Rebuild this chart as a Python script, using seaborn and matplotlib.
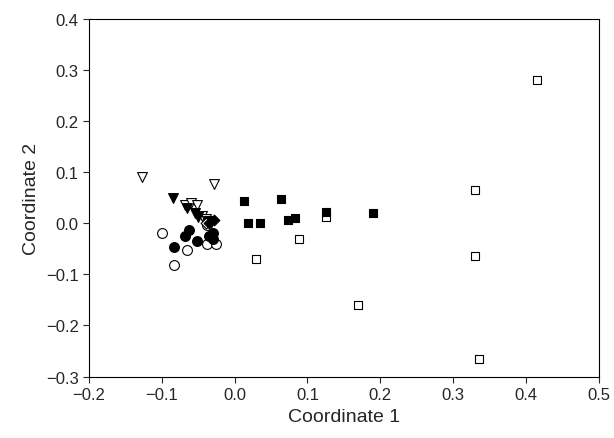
import matplotlib
matplotlib.use("Agg")
import matplotlib.pyplot as plt
import seaborn as sns
import pandas as pd

open_sq_x = [0.415, 0.33, 0.33, 0.335, 0.17, 0.125, 0.088, 0.03]
open_sq_y = [0.28, 0.065, -0.065, -0.265, -0.16, 0.012, -0.03, -0.07]
fill_sq_x = [0.013, 0.018, 0.035, 0.063, 0.073, 0.083, 0.125, 0.19]
fill_sq_y = [0.043, 0.0, 0.0, 0.048, 0.007, 0.01, 0.022, 0.02]
open_tri_x = [-0.127, -0.028, -0.068, -0.06, -0.052, -0.045, -0.04]
open_tri_y = [0.09, 0.077, 0.035, 0.04, 0.035, 0.015, 0.008]
fill_tri_x = [-0.085, -0.065, -0.055, -0.05, -0.037]
fill_tri_y = [0.05, 0.03, 0.02, 0.012, 0.005]
fill_dia_x = [-0.028, -0.035]
fill_dia_y = [0.007, 0.0]
open_dia_x = [-0.04]
open_dia_y = [0.0]
fill_ci_x = [-0.083, -0.068, -0.062, -0.052, -0.035, -0.03, -0.03]
fill_ci_y = [-0.047, -0.025, -0.013, -0.035, -0.025, -0.02, -0.03]
open_ci_x = [-0.1, -0.083, -0.065, -0.038, -0.025, -0.038]
open_ci_y = [-0.02, -0.082, -0.052, -0.04, -0.04, -0.003]

sns.set_style("ticks")
plt.rcParams['font.family'] = ['Liberation Sans', 'DejaVu Sans']
fig, ax = plt.subplots(figsize=(6.14, 4.39), dpi=100)

groups = [
    (open_ci_x, open_ci_y, 'o', 'white', 50),
    (fill_ci_x, fill_ci_y, 'o', 'black', 50),
    (open_tri_x, open_tri_y, 'v', 'white', 50),
    (fill_tri_x, fill_tri_y, 'v', 'black', 50),
    (open_dia_x, open_dia_y, 'D', 'white', 30),
    (fill_dia_x, fill_dia_y, 'D', 'black', 30),
    (open_sq_x, open_sq_y, 's', 'white', 30),
    (fill_sq_x, fill_sq_y, 's', 'black', 40),
]
for xs, ys, m, fc, s in groups:
    df = pd.DataFrame({'x': xs, 'y': ys})
    sns.scatterplot(data=df, x='x', y='y', marker=m, color=fc, edgecolor='black',
                    linewidth=0.8, s=s, ax=ax, zorder=3)

ax.set_xlim(-0.2, 0.5)
ax.set_ylim(-0.3, 0.4)
ax.set_xticks([-0.2, -0.1, 0.0, 0.1, 0.2, 0.3, 0.4, 0.5])
ax.set_xticklabels(['\u22120.2', '\u22120.1', '0.0', '0.1', '0.2', '0.3', '0.4', '0.5'])
ax.set_yticks([-0.3, -0.2, -0.1, 0.0, 0.1, 0.2, 0.3, 0.4])
ax.set_yticklabels(['\u22120.3', '\u22120.2', '\u22120.1', '0.0', '0.1', '0.2', '0.3', '0.4'])
ax.tick_params(labelsize=12, length=4)
ax.set_xlabel('Coordinate 1', fontsize=14)
ax.set_ylabel('Coordinate 2', fontsize=14)
for sp in ax.spines.values():
    sp.set_color('black')
fig.subplots_adjust(left=0.145, right=0.975, bottom=0.14, top=0.955)
fig.savefig('out.png', dpi=100)
